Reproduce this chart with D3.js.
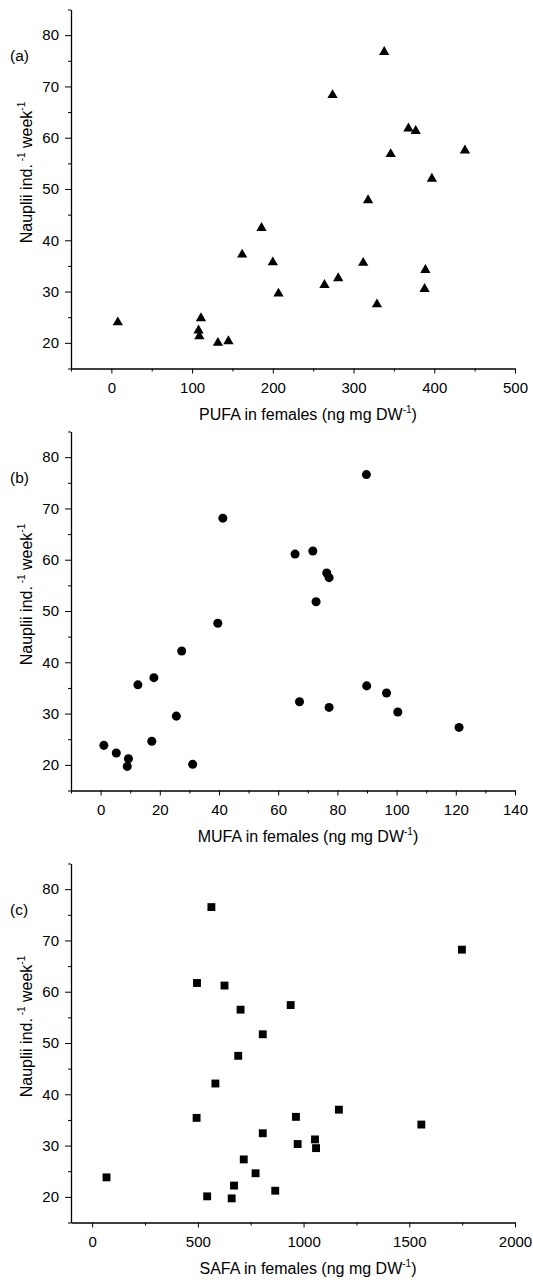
<!DOCTYPE html>
<html>
<head>
<meta charset="utf-8">
<script src="https://cdn.jsdelivr.net/npm/d3@7"></script>
<style>
  body { margin: 0; background: #fff; }
  svg text { font-family: "Liberation Sans", Arial, sans-serif; fill: #000; }
  .axis path, .axis line { stroke: #000; }
</style>
</head>
<body>
<div id="chart"></div>
<script>
// nauplii production (ind.-1 week-1) against fatty acid content of females
var pufa = [8, 111, 108, 109, 132, 145, 162, 186, 200, 207, 264, 274,
            281, 312, 318, 329, 338, 346, 368, 377, 389, 388, 397, 438];
var pufaNauplii = [24.0, 24.8, 22.4, 21.3, 20.0, 20.3, 37.2, 42.4, 35.7, 29.6, 31.3, 68.3,
                   32.6, 35.6, 47.8, 27.5, 76.7, 56.8, 61.8, 61.3, 34.2, 30.5, 52.0, 57.5];

var mufa = [1.1, 5.3, 9.4, 9.0, 12.6, 17.3, 18.0, 25.6, 27.4, 31.1, 39.6, 41.3,
            65.7, 67.2, 71.7, 72.8, 76.4, 77.2, 77.2, 89.8, 89.9, 96.6, 100.4, 121.1];
var mufaNauplii = [23.8, 22.3, 21.2, 19.7, 35.6, 24.6, 37.0, 29.5, 42.2, 20.1, 47.6, 68.1,
                   61.1, 32.3, 61.7, 51.8, 57.4, 56.5, 31.2, 76.6, 35.4, 34.0, 30.3, 27.3];

var safa = [68, 494, 496, 544, 564, 583, 626, 660, 671, 691, 702, 717,
            773, 807, 807, 866, 939, 964, 972, 1054, 1059, 1167, 1557, 1749];
var safaNauplii = [23.8, 35.4, 61.7, 20.1, 76.5, 42.1, 61.2, 19.7, 22.2, 47.5, 56.5, 27.3,
                   24.6, 51.7, 32.4, 21.2, 57.4, 35.6, 30.3, 31.2, 29.5, 37.0, 34.1, 68.2];

var yMajor = [20, 30, 40, 50, 60, 70, 80];
var yMinor = [15, 25, 35, 45, 55, 65, 75, 85];

var panels = [
  { tag: "(a)", name: "PUFA", x: pufa, y: pufaNauplii, domain: [-50, 500],
    major: [0, 100, 200, 300, 400, 500], minor: [-50, 50, 150, 250, 350, 450],
    symbol: d3.symbolTriangle, size: 46, top: 9.5 },
  { tag: "(b)", name: "MUFA", x: mufa, y: mufaNauplii, domain: [-10, 140],
    major: [0, 20, 40, 60, 80, 100, 120, 140], minor: [-10, 10, 30, 50, 70, 90, 110, 130],
    symbol: d3.symbolCircle, size: 64, top: 431.5 },
  { tag: "(c)", name: "SAFA", x: safa, y: safaNauplii, domain: [-100, 2000],
    major: [0, 500, 1000, 1500, 2000], minor: [250, 750, 1250, 1750],
    symbol: d3.symbolSquare, size: 62, top: 863.5 }
];

var svgWidth = 533;
var svgHeight = 1280;
var left = 71, right = 515, plotH = 359;

var svg = d3.select("#chart")
  .append("svg")
  .attr("width", svgWidth)
  .attr("height", svgHeight);

panels.forEach(function(p) {
  var g = svg.append("g");

  var xScale = d3.scaleLinear().domain(p.domain).range([left, right]);
  var yScale = d3.scaleLinear().domain([15, 85]).range([p.top + plotH, p.top]);

  // y axis: major ticks with labels, then minor ticks
  g.append("g")
    .attr("class", "axis")
    .attr("transform", `translate(${left},0)`)
    .call(d3.axisLeft(yScale).tickValues(yMajor).tickSize(6).tickSizeOuter(0).tickPadding(6))
    .call(s => s.selectAll("text").attr("font-size", 15));

  g.append("g")
    .attr("class", "axis")
    .attr("transform", `translate(${left},0)`)
    .call(d3.axisLeft(yScale).tickValues(yMinor).tickSize(3).tickSizeOuter(0).tickFormat(""))
    .call(s => s.select(".domain").remove());

  // x axis
  g.append("g")
    .attr("class", "axis")
    .attr("transform", `translate(0,${p.top + plotH})`)
    .call(d3.axisBottom(xScale).tickValues(p.major).tickFormat(d3.format("d"))
      .tickSize(5).tickSizeOuter(0).tickPadding(9))
    .call(s => s.selectAll("text").attr("font-size", 15));

  g.append("g")
    .attr("class", "axis")
    .attr("transform", `translate(0,${p.top + plotH})`)
    .call(d3.axisBottom(xScale).tickValues(p.minor).tickSize(3).tickSizeOuter(0).tickFormat(""))
    .call(s => s.select(".domain").remove());

  g.selectAll(".axis path.domain").attr("stroke-width", 1.3);

  // points
  var sym = d3.symbol().type(p.symbol).size(p.size);
  g.selectAll("path.pt")
    .data(p.x.map((v, i) => [v, p.y[i]]))
    .enter()
    .append("path")
    .attr("class", "pt")
    .attr("d", sym)
    .attr("fill", "#000")
    .attr("transform", d => `translate(${xScale(d[0])},${yScale(d[1])})`);

  // panel tag
  g.append("text")
    .attr("x", 10)
    .attr("y", p.top + 51)
    .attr("font-size", 15.5)
    .text(p.tag);

  // x title
  var xt = g.append("text")
    .attr("x", 308)
    .attr("y", p.top + plotH + 51.5)
    .attr("text-anchor", "middle")
    .attr("font-size", 16);
  xt.append("tspan").text(p.name + " in females (ng mg DW");
  xt.append("tspan").attr("font-size", 10).attr("dy", -7).text("-1");
  xt.append("tspan").attr("dy", 7).text(")");

  // y title
  var yt = g.append("text")
    .attr("transform", `translate(32,${p.top + 163}) rotate(-90)`)
    .attr("text-anchor", "middle")
    .attr("font-size", 16);
  yt.append("tspan").text("Nauplii ind.");
  yt.append("tspan").attr("font-size", 10).attr("dy", -7).text(" -1");
  yt.append("tspan").attr("dy", 7).text("  week");
  yt.append("tspan").attr("font-size", 10).attr("dy", -7).text("-1");
});
</script>
</body>
</html>
